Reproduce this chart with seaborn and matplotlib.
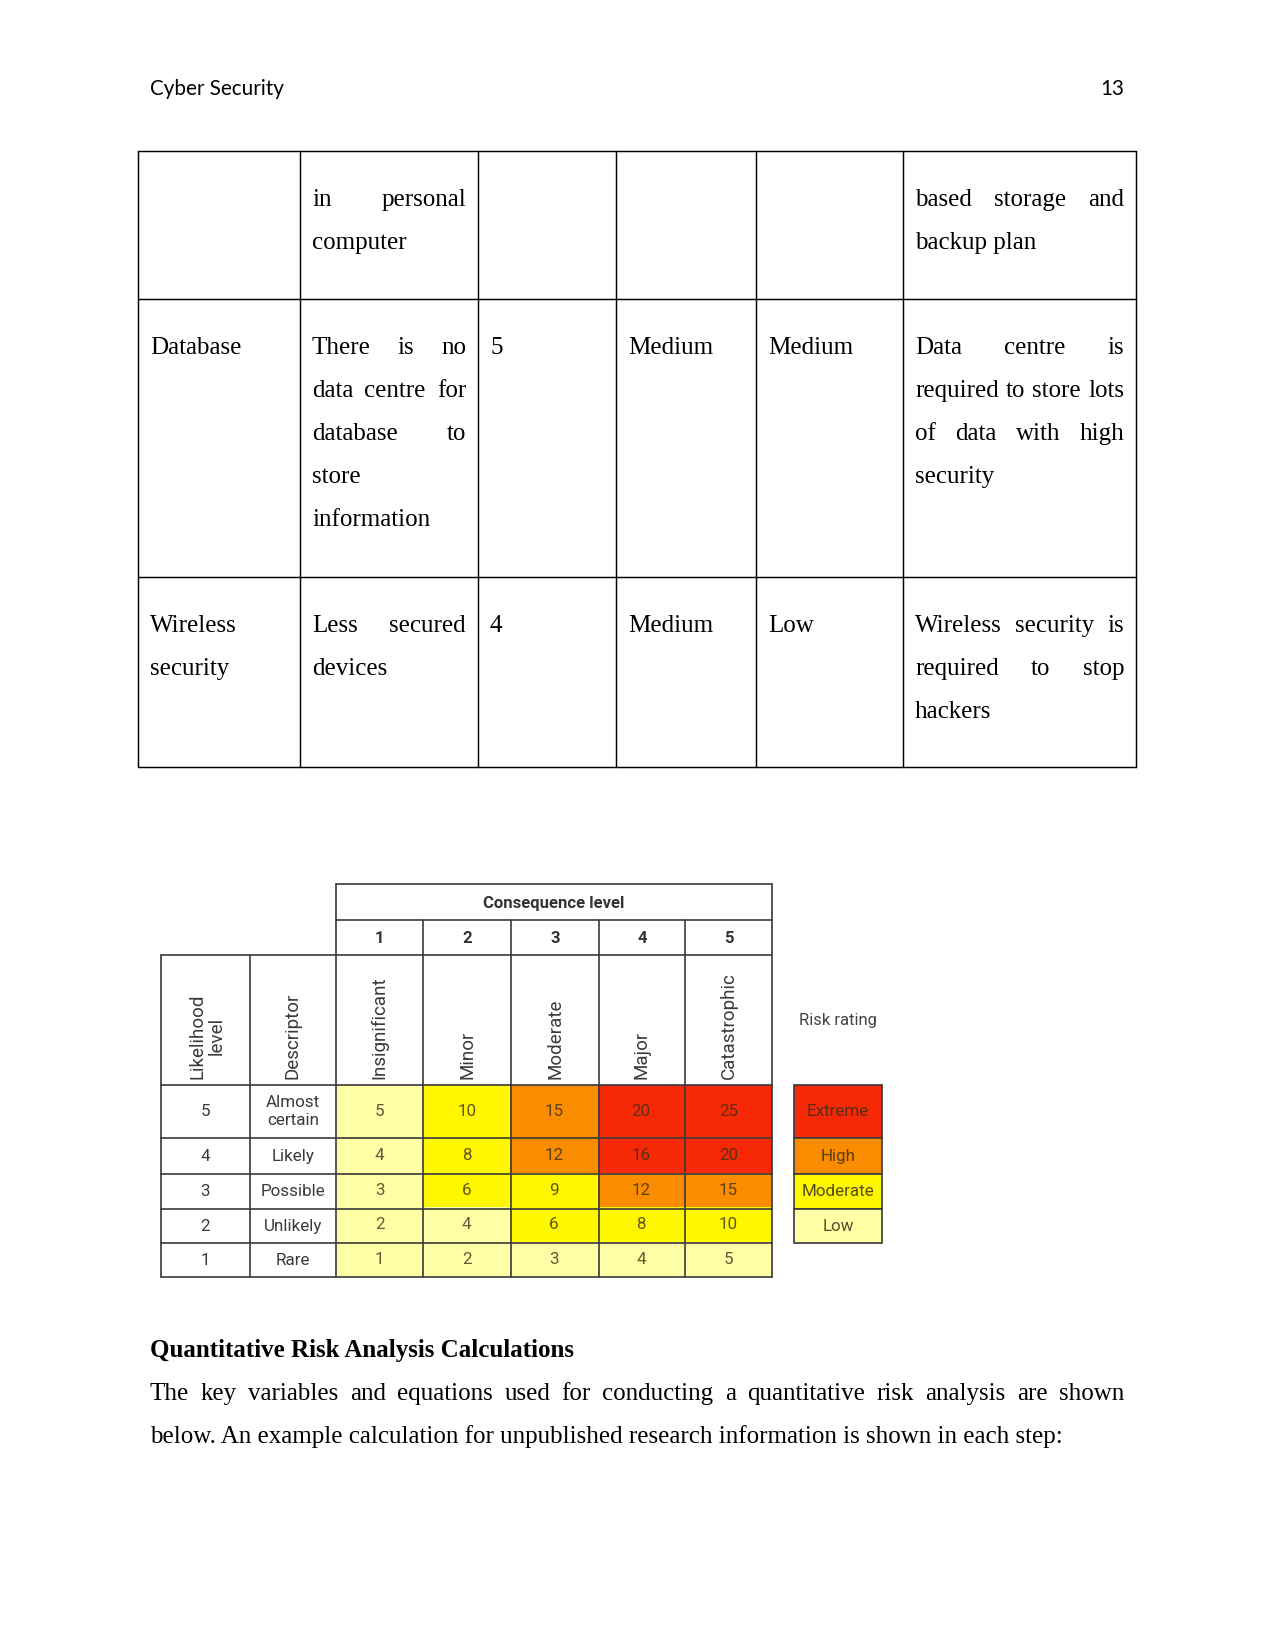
import numpy as np
import matplotlib
matplotlib.use("Agg")
import matplotlib.pyplot as plt
import seaborn as sns
from matplotlib.colors import ListedColormap
from matplotlib.patches import Rectangle

# ---------------- data ----------------
header_left = "Cyber Security"
page_number = "13"

table_cells = [
    [[], ["in personal", "computer"], [], [], [], ["based storage and", "backup plan"]],
    [["Database"],
     ["There is no", "data centre for", "database to", "store", "information"],
     ["5"], ["Medium"], ["Medium"],
     ["Data centre is", "required to store lots", "of data with high", "security"]],
    [["Wireless", "security"], ["Less secured", "devices"], ["4"], ["Medium"], ["Low"],
     ["Wireless security is", "required to stop", "hackers"]],
]

consequence_title = "Consequence level"
consequence_levels = ["1", "2", "3", "4", "5"]
consequence_names = ["Insignificant", "Minor", "Moderate", "Major", "Catastrophic"]
likelihood_levels = ["5", "4", "3", "2", "1"]
likelihood_names = ["Almost\ncertain", "Likely", "Possible", "Unlikely", "Rare"]
risk_scores = np.array([
    [5, 10, 15, 20, 25],
    [4, 8, 12, 16, 20],
    [3, 6, 9, 12, 15],
    [2, 4, 6, 8, 10],
    [1, 2, 3, 4, 5],
])
# 0 = Low, 1 = Moderate, 2 = High, 3 = Extreme
risk_codes = np.array([
    [0, 1, 2, 3, 3],
    [0, 1, 2, 3, 3],
    [0, 1, 1, 2, 2],
    [0, 0, 1, 1, 1],
    [0, 0, 0, 0, 0],
])
rating_names = ["Low", "Moderate", "High", "Extreme"]
rating_colors = ["#FFFFA6", "#FFF700", "#FA8C00", "#F72805"]

heading = "Quantitative Risk Analysis Calculations"
body_lines = [
    "The key variables and equations used for conducting a quantitative risk analysis are shown",
    "below. An example calculation for unpublished research information is shown in each step:",
]

# ---------------- figure ----------------
sns.set_theme(style="white")
plt.rcParams["font.family"] = ["Liberation Serif", "DejaVu Sans"]

W, H = 1275, 1651
fig = plt.figure(figsize=(8.5, 11.0067), dpi=150)
fig.patch.set_facecolor("white")
ax = fig.add_axes([0, 0, 1, 1])
ax.set_xlim(0, W)
ax.set_ylim(H, 0)
ax.axis("off")
ax.patch.set_visible(False)
ax.set_zorder(10)
renderer = fig.canvas.get_renderer()


def put_line(words, x0, x1, y, justify, **kw):
    if (not justify) or len(words) == 1:
        ax.text(x0, y, " ".join(words), ha="left", va="baseline", **kw)
        return
    texts = [ax.text(0, y, w, ha="left", va="baseline", **kw) for w in words]
    widths = [t.get_window_extent(renderer).width for t in texts]
    gap = (x1 - x0 - sum(widths)) / (len(words) - 1)
    x = x0
    for t, w in zip(texts, widths):
        t.set_x(x)
        x += w + gap


serif = dict(family=["Liberation Serif", "DejaVu Serif"], fontsize=12, color="black")

# page header
ax.text(150, 95, header_left, ha="left", va="baseline", family=["Lato", "DejaVu Sans"],
        fontsize=9.9, color="black")
ax.text(1124, 95, page_number, ha="right", va="baseline", family=["Lato", "DejaVu Sans"],
        fontsize=9.9, color="black")

# top table
col_edges = [138, 300, 478, 616, 756, 903, 1136]
row_edges = [151, 299, 577, 767]
for x in col_edges:
    ax.plot([x, x], [row_edges[0], row_edges[-1]], color="black", lw=0.7)
for y in row_edges:
    ax.plot([col_edges[0], col_edges[-1]], [y, y], color="black", lw=0.7)

pad = 12
for r, row in enumerate(table_cells):
    y0 = row_edges[r] + 55
    for c, lines in enumerate(row):
        x0 = col_edges[c] + pad
        x1 = col_edges[c + 1] - pad
        for i, line in enumerate(lines):
            last = i == len(lines) - 1
            put_line(line.split(), x0, x1, y0 + 43 * i, justify=not last, **serif)

# ---------------- risk matrix ----------------
mx = [161, 249.5, 336, 423, 511, 599, 685, 772]
my = [884, 920, 955, 1085, 1138, 1174, 1209, 1243, 1277]
sans = ["Roboto", "DejaVu Sans"]
txtc = "#3a3a3a"

cmap = ListedColormap(rating_colors)


def fig_rect(x0, x1, y0, y1):
    return [x0 / W, 1 - y1 / H, (x1 - x0) / W, (y1 - y0) / H]


annot_kws = dict(fontsize=8.2, color="#3a2e1a", alpha=0.8, family=sans)
ax_top = fig.add_axes(fig_rect(mx[2], mx[7], my[3], my[4]))
sns.heatmap(risk_codes[:1], ax=ax_top, cmap=cmap, vmin=-0.5, vmax=3.5, cbar=False,
            annot=risk_scores[:1], fmt="d", annot_kws=annot_kws,
            xticklabels=False, yticklabels=False, linewidths=0)
ax_bot = fig.add_axes(fig_rect(mx[2], mx[7], my[4], my[8]))
sns.heatmap(risk_codes[1:], ax=ax_bot, cmap=cmap, vmin=-0.5, vmax=3.5, cbar=False,
            annot=risk_scores[1:], fmt="d", annot_kws=annot_kws,
            xticklabels=False, yticklabels=False, linewidths=0)
for a in (ax_top, ax_bot):
    a.set_xlabel("")
    a.set_ylabel("")
    for s in a.spines.values():
        s.set_visible(False)

lc = "#3a3a3a"
lw = 0.8
ax.plot([mx[2], mx[7]], [my[0], my[0]], color=lc, lw=lw)
ax.plot([mx[2], mx[7]], [my[1], my[1]], color=lc, lw=lw)
ax.plot([mx[0], mx[7]], [my[2], my[2]], color=lc, lw=lw)
for y in my[3:]:
    ax.plot([mx[0], mx[7]], [y, y], color=lc, lw=lw)
for i, x in enumerate(mx):
    top = my[0] if i in (2, 7) else (my[1] if i > 2 else my[2])
    ax.plot([x, x], [top, my[-1]], color=lc, lw=lw)

ax.text((mx[2] + mx[7]) / 2, (my[0] + my[1]) / 2 + 1, consequence_title, ha="center",
        va="center", family=sans, fontsize=8, fontweight="bold", color="#333333")
for j, lab in enumerate(consequence_levels):
    ax.text((mx[2 + j] + mx[3 + j]) / 2, (my[1] + my[2]) / 2 + 1, lab, ha="center",
            va="center", family=sans, fontsize=8, fontweight="bold", color="#333333")
    ax.text((mx[2 + j] + mx[3 + j]) / 2, my[3] - 6, consequence_names[j], rotation=90,
            ha="center", va="bottom", family=sans, fontsize=9, color=txtc)
ax.text((mx[0] + mx[1]) / 2 + 2, my[3] - 6, "Likelihood\nlevel", rotation=90, ha="center",
        va="bottom", family=sans, fontsize=9, color=txtc, linespacing=1.12)
ax.text((mx[1] + mx[2]) / 2, my[3] - 6, "Descriptor", rotation=90, ha="center",
        va="bottom", family=sans, fontsize=9, color=txtc)
for i in range(5):
    yc = (my[3 + i] + my[4 + i]) / 2
    ax.text((mx[0] + mx[1]) / 2, yc, likelihood_levels[i], ha="center", va="center",
            family=sans, fontsize=8.2, color=txtc)
    ax.text((mx[1] + mx[2]) / 2, yc, likelihood_names[i], ha="center", va="center",
            family=sans, fontsize=8.2, color=txtc, linespacing=1.2)

# risk rating legend
ax.text(838, 1020, "Risk rating", ha="center", va="center", family=sans, fontsize=8,
        color="#444444")
leg_y = [1085, 1138, 1174, 1209, 1243]
for k, code in enumerate([3, 2, 1, 0]):
    ax.add_patch(Rectangle((794, leg_y[k]), 88, leg_y[k + 1] - leg_y[k],
                           facecolor=rating_colors[code], edgecolor=lc, lw=lw, zorder=1))
    ax.text(838, (leg_y[k] + leg_y[k + 1]) / 2, rating_names[code], ha="center",
            va="center", family=sans, fontsize=8.2, color="#3a2e1a", alpha=0.85, zorder=2)

# ---------------- text below ----------------
ax.text(150, 1357, heading, ha="left", va="baseline", family=["Liberation Serif"],
        fontsize=12, fontweight="bold", color="black")
put_line(body_lines[0].split(), 150, 1124, 1400, True, **serif)
put_line(body_lines[1].split(), 150, 1124, 1443, False, **serif)

fig.savefig("out.png", dpi=150, facecolor="white")
